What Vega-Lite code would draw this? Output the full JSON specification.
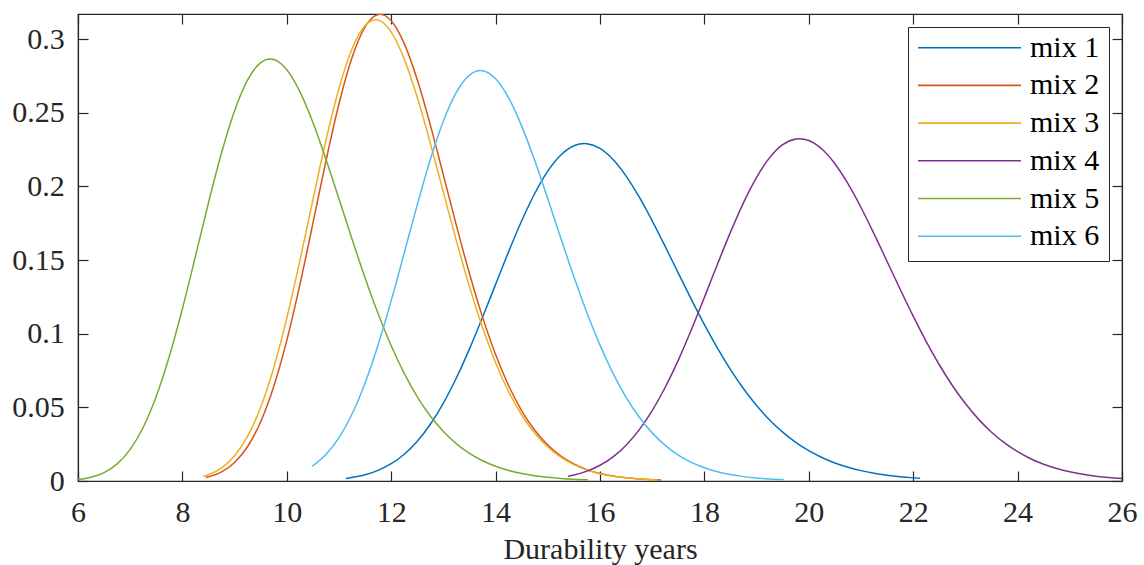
{
"$schema": "https://vega.github.io/schema/vega-lite/v6.json",
"width": 1044, "height": 467,
"autosize": "none",
"padding": {"left": 78, "top": 14, "right": 22, "bottom": 84},
"background": "white",
"config": {
 "font": "Liberation Serif",
 "view": {"stroke": "#262626", "strokeWidth": 1.2},
 "axis": {"domainColor": "#262626", "tickColor": "#262626", "labelColor": "#262626", "titleColor": "#262626", "labelFont": "Liberation Serif", "titleFont": "Liberation Serif", "labelFontSize": 30, "titleFontSize": 30, "titleFontWeight": "normal", "grid": false, "tickSize": -10, "domainWidth": 1.2, "tickWidth": 1.2, "labelFlush": false, "labelOverlap": false}
},
"data": {"values": [
{"series":"mix 1","x":11.13,"y":0.00176},{"series":"mix 1","x":11.5,"y":0.00425},{"series":"mix 1","x":11.75,"y":0.00723},{"series":"mix 1","x":12,"y":0.01173},{"series":"mix 1","x":12.25,"y":0.01819},{"series":"mix 1","x":12.5,"y":0.02702},{"series":"mix 1","x":12.75,"y":0.03854},{"series":"mix 1","x":13,"y":0.05292},{"series":"mix 1","x":13.25,"y":0.07008},{"series":"mix 1","x":13.5,"y":0.08968},{"series":"mix 1","x":13.75,"y":0.1111},{"series":"mix 1","x":14,"y":0.13346},{"series":"mix 1","x":14.25,"y":0.15568},{"series":"mix 1","x":14.5,"y":0.17662},{"series":"mix 1","x":14.75,"y":0.19516},{"series":"mix 1","x":15,"y":0.2103},{"series":"mix 1","x":15.25,"y":0.22126},{"series":"mix 1","x":15.5,"y":0.22756},{"series":"mix 1","x":15.7,"y":0.2291},{"series":"mix 1","x":15.75,"y":0.229},{"series":"mix 1","x":16,"y":0.22575},{"series":"mix 1","x":16.25,"y":0.21819},{"series":"mix 1","x":16.5,"y":0.20696},{"series":"mix 1","x":16.75,"y":0.19281},{"series":"mix 1","x":17,"y":0.17658},{"series":"mix 1","x":17.25,"y":0.15908},{"series":"mix 1","x":17.5,"y":0.14109},{"series":"mix 1","x":17.75,"y":0.12327},{"series":"mix 1","x":18,"y":0.10617},{"series":"mix 1","x":18.25,"y":0.0902},{"series":"mix 1","x":18.5,"y":0.07564},{"series":"mix 1","x":18.75,"y":0.06263},{"series":"mix 1","x":19,"y":0.05124},{"series":"mix 1","x":19.25,"y":0.04144},{"series":"mix 1","x":19.5,"y":0.03315},{"series":"mix 1","x":19.75,"y":0.02623},{"series":"mix 1","x":20,"y":0.02055},{"series":"mix 1","x":20.25,"y":0.01595},{"series":"mix 1","x":20.5,"y":0.01225},{"series":"mix 1","x":20.75,"y":0.00933},{"series":"mix 1","x":21,"y":0.00705},{"series":"mix 1","x":21.25,"y":0.00528},{"series":"mix 1","x":21.5,"y":0.00392},{"series":"mix 1","x":21.75,"y":0.00289},{"series":"mix 1","x":22,"y":0.00212},{"series":"mix 1","x":22.13,"y":0.0018},
{"series":"mix 2","x":8.45,"y":0.00234},{"series":"mix 2","x":8.75,"y":0.00619},{"series":"mix 2","x":9,"y":0.01258},{"series":"mix 2","x":9.25,"y":0.02342},{"series":"mix 2","x":9.5,"y":0.04023},{"series":"mix 2","x":9.75,"y":0.06415},{"series":"mix 2","x":10,"y":0.09545},{"series":"mix 2","x":10.25,"y":0.13313},{"series":"mix 2","x":10.5,"y":0.1749},{"series":"mix 2","x":10.75,"y":0.21724},{"series":"mix 2","x":11,"y":0.25607},{"series":"mix 2","x":11.25,"y":0.28744},{"series":"mix 2","x":11.5,"y":0.30823},{"series":"mix 2","x":11.75,"y":0.31664},{"series":"mix 2","x":11.79,"y":0.3168},{"series":"mix 2","x":12,"y":0.31246},{"series":"mix 2","x":12.25,"y":0.29691},{"series":"mix 2","x":12.5,"y":0.27231},{"series":"mix 2","x":12.75,"y":0.24156},{"series":"mix 2","x":13,"y":0.20768},{"series":"mix 2","x":13.25,"y":0.17332},{"series":"mix 2","x":13.5,"y":0.14069},{"series":"mix 2","x":13.75,"y":0.11125},{"series":"mix 2","x":14,"y":0.08581},{"series":"mix 2","x":14.25,"y":0.06466},{"series":"mix 2","x":14.5,"y":0.04766},{"series":"mix 2","x":14.75,"y":0.03441},{"series":"mix 2","x":15,"y":0.02435},{"series":"mix 2","x":15.25,"y":0.01691},{"series":"mix 2","x":15.5,"y":0.01155},{"series":"mix 2","x":15.75,"y":0.00775},{"series":"mix 2","x":16,"y":0.00512},{"series":"mix 2","x":16.25,"y":0.00333},{"series":"mix 2","x":16.5,"y":0.00214},{"series":"mix 2","x":16.75,"y":0.00135},{"series":"mix 2","x":17,"y":0.00085},{"series":"mix 2","x":17.17,"y":0.00061},
{"series":"mix 3","x":8.4,"y":0.00303},{"series":"mix 3","x":8.5,"y":0.0042},{"series":"mix 3","x":8.75,"y":0.00886},{"series":"mix 3","x":9,"y":0.0171},{"series":"mix 3","x":9.25,"y":0.0304},{"series":"mix 3","x":9.5,"y":0.05009},{"series":"mix 3","x":9.75,"y":0.0769},{"series":"mix 3","x":10,"y":0.11054},{"series":"mix 3","x":10.25,"y":0.14947},{"series":"mix 3","x":10.5,"y":0.19093},{"series":"mix 3","x":10.75,"y":0.23129},{"series":"mix 3","x":11,"y":0.26661},{"series":"mix 3","x":11.25,"y":0.29341},{"series":"mix 3","x":11.5,"y":0.30919},{"series":"mix 3","x":11.7,"y":0.3131},{"series":"mix 3","x":11.75,"y":0.31286},{"series":"mix 3","x":12,"y":0.30473},{"series":"mix 3","x":12.25,"y":0.2864},{"series":"mix 3","x":12.5,"y":0.26028},{"series":"mix 3","x":12.75,"y":0.2292},{"series":"mix 3","x":13,"y":0.19591},{"series":"mix 3","x":13.25,"y":0.16283},{"series":"mix 3","x":13.5,"y":0.13183},{"series":"mix 3","x":13.75,"y":0.10412},{"series":"mix 3","x":14,"y":0.08033},{"series":"mix 3","x":14.25,"y":0.0606},{"series":"mix 3","x":14.5,"y":0.04479},{"series":"mix 3","x":14.75,"y":0.03246},{"series":"mix 3","x":15,"y":0.02308},{"series":"mix 3","x":15.25,"y":0.01612},{"series":"mix 3","x":15.5,"y":0.01108},{"series":"mix 3","x":15.75,"y":0.0075},{"series":"mix 3","x":16,"y":0.00499},{"series":"mix 3","x":16.25,"y":0.00328},{"series":"mix 3","x":16.5,"y":0.00213},{"series":"mix 3","x":16.75,"y":0.00136},{"series":"mix 3","x":17,"y":0.00086},{"series":"mix 3","x":17.1,"y":0.00071},
{"series":"mix 4","x":15.39,"y":0.00316},{"series":"mix 4","x":15.5,"y":0.00401},{"series":"mix 4","x":15.75,"y":0.00669},{"series":"mix 4","x":16,"y":0.0107},{"series":"mix 4","x":16.25,"y":0.01644},{"series":"mix 4","x":16.5,"y":0.02433},{"series":"mix 4","x":16.75,"y":0.0347},{"series":"mix 4","x":17,"y":0.04778},{"series":"mix 4","x":17.25,"y":0.06364},{"series":"mix 4","x":17.5,"y":0.08208},{"series":"mix 4","x":17.75,"y":0.10267},{"series":"mix 4","x":18,"y":0.12465},{"series":"mix 4","x":18.25,"y":0.14711},{"series":"mix 4","x":18.5,"y":0.16893},{"series":"mix 4","x":18.75,"y":0.18898},{"series":"mix 4","x":19,"y":0.20615},{"series":"mix 4","x":19.25,"y":0.21949},{"series":"mix 4","x":19.5,"y":0.2283},{"series":"mix 4","x":19.75,"y":0.2322},{"series":"mix 4","x":19.82,"y":0.2324},{"series":"mix 4","x":20,"y":0.23113},{"series":"mix 4","x":20.25,"y":0.22532},{"series":"mix 4","x":20.5,"y":0.21531},{"series":"mix 4","x":20.75,"y":0.20179},{"series":"mix 4","x":21,"y":0.18566},{"series":"mix 4","x":21.25,"y":0.16776},{"series":"mix 4","x":21.5,"y":0.149},{"series":"mix 4","x":21.75,"y":0.13015},{"series":"mix 4","x":22,"y":0.11186},{"series":"mix 4","x":22.25,"y":0.09467},{"series":"mix 4","x":22.5,"y":0.07891},{"series":"mix 4","x":22.75,"y":0.06484},{"series":"mix 4","x":23,"y":0.05255},{"series":"mix 4","x":23.25,"y":0.042},{"series":"mix 4","x":23.5,"y":0.03314},{"series":"mix 4","x":23.75,"y":0.02582},{"series":"mix 4","x":24,"y":0.01988},{"series":"mix 4","x":24.25,"y":0.01512},{"series":"mix 4","x":24.5,"y":0.01137},{"series":"mix 4","x":24.75,"y":0.00846},{"series":"mix 4","x":25,"y":0.00622},{"series":"mix 4","x":25.25,"y":0.00453},{"series":"mix 4","x":25.5,"y":0.00327},{"series":"mix 4","x":25.75,"y":0.00233},{"series":"mix 4","x":26,"y":0.00165},
{"series":"mix 5","x":6,"y":0.00102},{"series":"mix 5","x":6.25,"y":0.00256},{"series":"mix 5","x":6.5,"y":0.00574},{"series":"mix 5","x":6.75,"y":0.01162},{"series":"mix 5","x":7,"y":0.02148},{"series":"mix 5","x":7.25,"y":0.03651},{"series":"mix 5","x":7.5,"y":0.05754},{"series":"mix 5","x":7.75,"y":0.08464},{"series":"mix 5","x":8,"y":0.11695},{"series":"mix 5","x":8.25,"y":0.15258},{"series":"mix 5","x":8.5,"y":0.18889},{"series":"mix 5","x":8.75,"y":0.22277},{"series":"mix 5","x":9,"y":0.25137},{"series":"mix 5","x":9.25,"y":0.27228},{"series":"mix 5","x":9.5,"y":0.28402},{"series":"mix 5","x":9.68,"y":0.2865},{"series":"mix 5","x":9.75,"y":0.28613},{"series":"mix 5","x":10,"y":0.27912},{"series":"mix 5","x":10.25,"y":0.26428},{"series":"mix 5","x":10.5,"y":0.24339},{"series":"mix 5","x":10.75,"y":0.21847},{"series":"mix 5","x":11,"y":0.19148},{"series":"mix 5","x":11.25,"y":0.16414},{"series":"mix 5","x":11.5,"y":0.1378},{"series":"mix 5","x":11.75,"y":0.11349},{"series":"mix 5","x":12,"y":0.0918},{"series":"mix 5","x":12.25,"y":0.07302},{"series":"mix 5","x":12.5,"y":0.05717},{"series":"mix 5","x":12.75,"y":0.04411},{"series":"mix 5","x":13,"y":0.03357},{"series":"mix 5","x":13.25,"y":0.02522},{"series":"mix 5","x":13.5,"y":0.01872},{"series":"mix 5","x":13.75,"y":0.01374},{"series":"mix 5","x":14,"y":0.00998},{"series":"mix 5","x":14.25,"y":0.00717},{"series":"mix 5","x":14.5,"y":0.00511},{"series":"mix 5","x":14.75,"y":0.00361},{"series":"mix 5","x":15,"y":0.00253},{"series":"mix 5","x":15.25,"y":0.00176},{"series":"mix 5","x":15.5,"y":0.00121},{"series":"mix 5","x":15.77,"y":0.00081},
{"series":"mix 6","x":10.48,"y":0.00983},{"series":"mix 6","x":10.75,"y":0.01797},{"series":"mix 6","x":11,"y":0.02944},{"series":"mix 6","x":11.25,"y":0.0455},{"series":"mix 6","x":11.5,"y":0.06656},{"series":"mix 6","x":11.75,"y":0.09248},{"series":"mix 6","x":12,"y":0.12242},{"series":"mix 6","x":12.25,"y":0.15483},{"series":"mix 6","x":12.5,"y":0.18758},{"series":"mix 6","x":12.75,"y":0.21823},{"series":"mix 6","x":13,"y":0.24438},{"series":"mix 6","x":13.25,"y":0.26396},{"series":"mix 6","x":13.5,"y":0.27554},{"series":"mix 6","x":13.71,"y":0.2786},{"series":"mix 6","x":13.75,"y":0.27849},{"series":"mix 6","x":14,"y":0.273},{"series":"mix 6","x":14.25,"y":0.25999},{"series":"mix 6","x":14.5,"y":0.2409},{"series":"mix 6","x":14.75,"y":0.21748},{"series":"mix 6","x":15,"y":0.19155},{"series":"mix 6","x":15.25,"y":0.1648},{"series":"mix 6","x":15.5,"y":0.13867},{"series":"mix 6","x":15.75,"y":0.11424},{"series":"mix 6","x":16,"y":0.09224},{"series":"mix 6","x":16.25,"y":0.07307},{"series":"mix 6","x":16.5,"y":0.05683},{"series":"mix 6","x":16.75,"y":0.04344},{"series":"mix 6","x":17,"y":0.03267},{"series":"mix 6","x":17.25,"y":0.02418},{"series":"mix 6","x":17.5,"y":0.01763},{"series":"mix 6","x":17.75,"y":0.01267},{"series":"mix 6","x":18,"y":0.00899},{"series":"mix 6","x":18.25,"y":0.00629},{"series":"mix 6","x":18.5,"y":0.00435},{"series":"mix 6","x":18.75,"y":0.00297},{"series":"mix 6","x":19,"y":0.00201},{"series":"mix 6","x":19.25,"y":0.00134},{"series":"mix 6","x":19.52,"y":0.00086}
]},
"layer": [
 {"mark": {"type": "line", "strokeWidth": 1.5, "interpolate": "monotone", "clip": true},
  "encoding": {
   "x": {"field": "x", "type": "quantitative", "scale": {"domain": [6, 26], "nice": false, "zero": false},
         "axis": {"values": [6,8,10,12,14,16,18,20,22,24,26], "title": "Durability years", "labelFont": "Liberation Serif", "labelFontSize": 30, "labelPadding": 50.8, "labelBaseline": "alphabetic", "titleBaseline": "alphabetic", "titleY": 77, "titleAnchor": "middle"}},
   "y": {"field": "y", "type": "quantitative", "scale": {"domain": [0, 0.317], "nice": false},
         "axis": {"values": [0,0.05,0.1,0.15,0.2,0.25,0.3], "format": "~g", "title": null, "labelFont": "Liberation Serif", "labelFontSize": 30, "labelPadding": 23.7}},
   "color": {"field": "series", "type": "nominal",
     "scale": {"domain": ["mix 1","mix 2","mix 3","mix 4","mix 5","mix 6"], "range": ["#0072BD","#D95319","#EDB120","#7E2F8E","#77AC30","#4DBEEE"]},
     "legend": {"title": null, "orient": "top-right", "offset": 13, "symbolType": "stroke", "symbolSize": 10609, "symbolStrokeWidth": 1.6, "labelFontSize": 30, "labelFont": "Liberation Serif", "labelColor": "#000000", "padding": 9, "clipHeight": 23.4, "rowPadding": 6.7, "labelOffset": 8, "strokeColor": "#262626", "fillColor": "white", "cornerRadius": 0}}
  }},
 {"mark": {"type": "point", "opacity": 0},
  "encoding": {
   "x": {"field": "x", "type": "quantitative", "axis": {"orient": "top", "labels": false, "title": null, "values": [6,8,10,12,14,16,18,20,22,24,26]}},
   "y": {"field": "y", "type": "quantitative", "axis": {"orient": "right", "labels": false, "title": null, "values": [0,0.05,0.1,0.15,0.2,0.25,0.3]}}
  }}
],
"resolve": {"axis": {"x": "independent", "y": "independent"}}
}
